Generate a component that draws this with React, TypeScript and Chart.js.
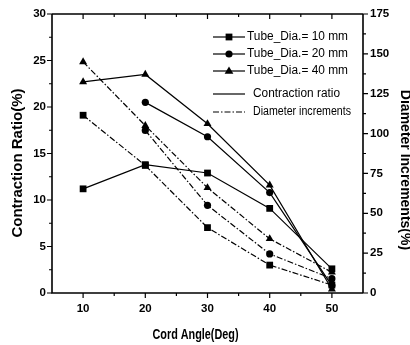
import React, { useEffect, useRef } from "react";
import { Chart, registerables } from "chart.js";

Chart.register(...registerables);

const angles = [10, 20, 30, 40, 50];
const contraction10 = [11.2, 13.8, 12.9, 9.1, 2.6];
const contraction20 = [null, 20.5, 16.8, 10.8, 0.8];
const contraction40 = [22.7, 23.5, 18.2, 11.6, 0.4];
const increment10 = [111.5, 80, 41, 17.5, 5];
const increment20 = [null, 102, 55, 24.5, 9];
const increment40 = [145, 105, 66, 34, 13];

const legendSeries = ["Tube_Dia.= 10 mm", "Tube_Dia.= 20 mm", "Tube_Dia.= 40 mm"];
const legendTypes = ["Contraction ratio", "Diameter increments"];
const leftTitle = "Contraction Ratio(%)";
const rightTitle = "Diameter Increments(%)";
const bottomTitle = "Cord Angle(Deg)";

const DASH = [6, 2, 1.5, 2];
const FONT = "'Liberation Sans', Arial, sans-serif";

const markers: any[] = ["rect", "circle", "triangle"];
const markerRadius = [4.8, 3.6, 4.6];

function drawMarker(ctx: CanvasRenderingContext2D, style: string, x: number, y: number, r: number) {
  ctx.beginPath();
  if (style === "rect") {
    const s = Math.SQRT1_2 * r;
    ctx.rect(x - s, y - s, 2 * s, 2 * s);
  } else if (style === "circle") {
    ctx.arc(x, y, r, 0, Math.PI * 2);
  } else {
    ctx.moveTo(x, y - r);
    ctx.lineTo(x + r * 0.95, y + r * 0.6);
    ctx.lineTo(x - r * 0.95, y + r * 0.6);
    ctx.closePath();
  }
  ctx.fill();
}

function rotatedText(ctx: CanvasRenderingContext2D, text: string, x: number, y: number, angle: number, maxW: number) {
  ctx.save();
  ctx.translate(x, y);
  ctx.rotate(angle);
  ctx.textAlign = "center";
  ctx.textBaseline = "middle";
  ctx.fillText(text, 0, 0, maxW);
  ctx.restore();
}

const framePlugin = {
  id: "frame",
  afterDraw(chart: any) {
    const ctx: CanvasRenderingContext2D = chart.ctx;
    const { left, right, top, bottom } = chart.chartArea;
    const x = chart.scales.x;
    const y = chart.scales.y;
    const y2 = chart.scales.y2;
    ctx.save();
    ctx.strokeStyle = "#000";
    ctx.lineWidth = 1.6;
    ctx.beginPath();
    ctx.moveTo(left, top);
    ctx.lineTo(right, top);
    ctx.moveTo(left, top);
    ctx.lineTo(left, bottom);
    ctx.lineTo(right, bottom);
    ctx.moveTo(right, top);
    ctx.lineTo(right, bottom);
    ctx.stroke();
    ctx.lineWidth = 1.2;
    ctx.beginPath();
    for (let v = 10; v <= 50; v += 5) {
      const px = x.getPixelForValue(v);
      const len = v % 10 === 0 ? 5 : 3;
      ctx.moveTo(px, bottom);
      ctx.lineTo(px, bottom + len);
      ctx.moveTo(px, top);
      ctx.lineTo(px, top + len);
    }
    for (let v = 0; v <= 30; v += 2.5) {
      const py = y.getPixelForValue(v);
      const len = v % 5 === 0 ? 5 : 3;
      ctx.moveTo(left, py);
      ctx.lineTo(left - len, py);
    }
    for (let v = 0; v <= 175; v += 12.5) {
      const py = y2.getPixelForValue(v);
      const len = v % 25 === 0 ? 5 : 3;
      ctx.moveTo(right, py);
      ctx.lineTo(right + len, py);
    }
    ctx.stroke();

    // axis titles (condensed bold)
    ctx.fillStyle = "#000";
    ctx.font = `bold 15px ${FONT}`;
    rotatedText(ctx, leftTitle, 17.5, 163, -Math.PI / 2, 157);
    ctx.font = `bold 14px ${FONT}`;
    rotatedText(ctx, rightTitle, 405, 170, Math.PI / 2, 184);
    rotatedText(ctx, bottomTitle, 195.5, 335, 0, 86);

    // legend
    const rows = [37, 54, 71, 94, 112];
    const lx0 = 213, lx1 = 245;
    ctx.font = `12.5px ${FONT}`;
    ctx.textBaseline = "middle";
    ctx.textAlign = "left";
    ctx.lineWidth = 1.2;
    legendSeries.forEach((label, i) => {
      const ry = rows[i];
      ctx.setLineDash([]);
      ctx.beginPath();
      ctx.moveTo(lx0, ry);
      ctx.lineTo(lx1, ry);
      ctx.stroke();
      drawMarker(ctx, markers[i], (lx0 + lx1) / 2, ry, markerRadius[i]);
      ctx.fillText(label, 247, ry, 101);
    });
    const typeWidths = [87, 98];
    legendTypes.forEach((label, i) => {
      const ry = rows[3 + i];
      ctx.setLineDash(i === 0 ? [] : DASH);
      ctx.beginPath();
      ctx.moveTo(lx0, ry);
      ctx.lineTo(lx1, ry);
      ctx.stroke();
      ctx.setLineDash([]);
      ctx.fillText(label, 253, ry, typeWidths[i]);
    });
    ctx.restore();
  },
};

function series(label: string, data: any[], i: number, axis: string, dashed: boolean) {
  return {
    label,
    data,
    yAxisID: axis,
    borderColor: "#000",
    backgroundColor: "#000",
    borderWidth: 1.2,
    borderDash: dashed ? DASH : [],
    pointStyle: markers[i],
    pointRadius: markerRadius[i],
    pointBorderWidth: 0,
    pointBackgroundColor: "#000",
    tension: 0,
    spanGaps: false,
  };
}

export default function App() {
  const ref = useRef<HTMLCanvasElement | null>(null);
  useEffect(() => {
    if (!ref.current) return;
    const tickFont = { family: FONT, size: 11.5, weight: "bold" as const };
    const chart = new Chart(ref.current, {
      type: "line",
      data: {
        labels: angles,
        datasets: [
          series(legendSeries[0], angles.map((a, k) => ({ x: a, y: contraction10[k] })), 0, "y", false),
          series(legendSeries[1], angles.map((a, k) => ({ x: a, y: contraction20[k] })), 1, "y", false),
          series(legendSeries[2], angles.map((a, k) => ({ x: a, y: contraction40[k] })), 2, "y", false),
          series(legendSeries[0], angles.map((a, k) => ({ x: a, y: increment10[k] })), 0, "y2", true),
          series(legendSeries[1], angles.map((a, k) => ({ x: a, y: increment20[k] })), 1, "y2", true),
          series(legendSeries[2], angles.map((a, k) => ({ x: a, y: increment40[k] })), 2, "y2", true),
        ] as any,
      },
      options: {
        animation: false,
        responsive: true,
        maintainAspectRatio: false,
        layout: { padding: { top: 14, left: 0, right: 0, bottom: 0 } },
        plugins: { legend: { display: false }, tooltip: { enabled: false } },
        scales: {
          x: {
            type: "linear",
            min: 5,
            max: 55,
            grid: { display: false, drawTicks: false },
            border: { display: false },
            ticks: {
              stepSize: 5,
              autoSkip: false,
              maxRotation: 0,
              padding: 9,
              color: "#000",
              font: tickFont,
              callback: (v: any) => (v % 10 === 0 && v >= 10 && v <= 50 ? String(v) : ""),
            },
            afterFit: (s: any) => { s.height = 52; },
          },
          y: {
            type: "linear",
            position: "left",
            min: 0,
            max: 30,
            grid: { display: false, drawTicks: false },
            border: { display: false },
            ticks: { stepSize: 5, padding: 6, color: "#000", font: tickFont },
            afterFit: (s: any) => { s.width = 52; },
          },
          y2: {
            type: "linear",
            position: "right",
            min: 0,
            max: 175,
            grid: { display: false, drawTicks: false },
            border: { display: false },
            ticks: { stepSize: 25, padding: 7, color: "#000", font: tickFont },
            afterFit: (s: any) => { s.width = 47; },
          },
        },
      } as any,
      plugins: [framePlugin],
    });
    return () => chart.destroy();
  }, []);
  return (
    <div style={{ position: "absolute", left: 0, top: 0, width: 410, height: 345, background: "#fff" }}>
      <canvas ref={ref} />
    </div>
  );
}
